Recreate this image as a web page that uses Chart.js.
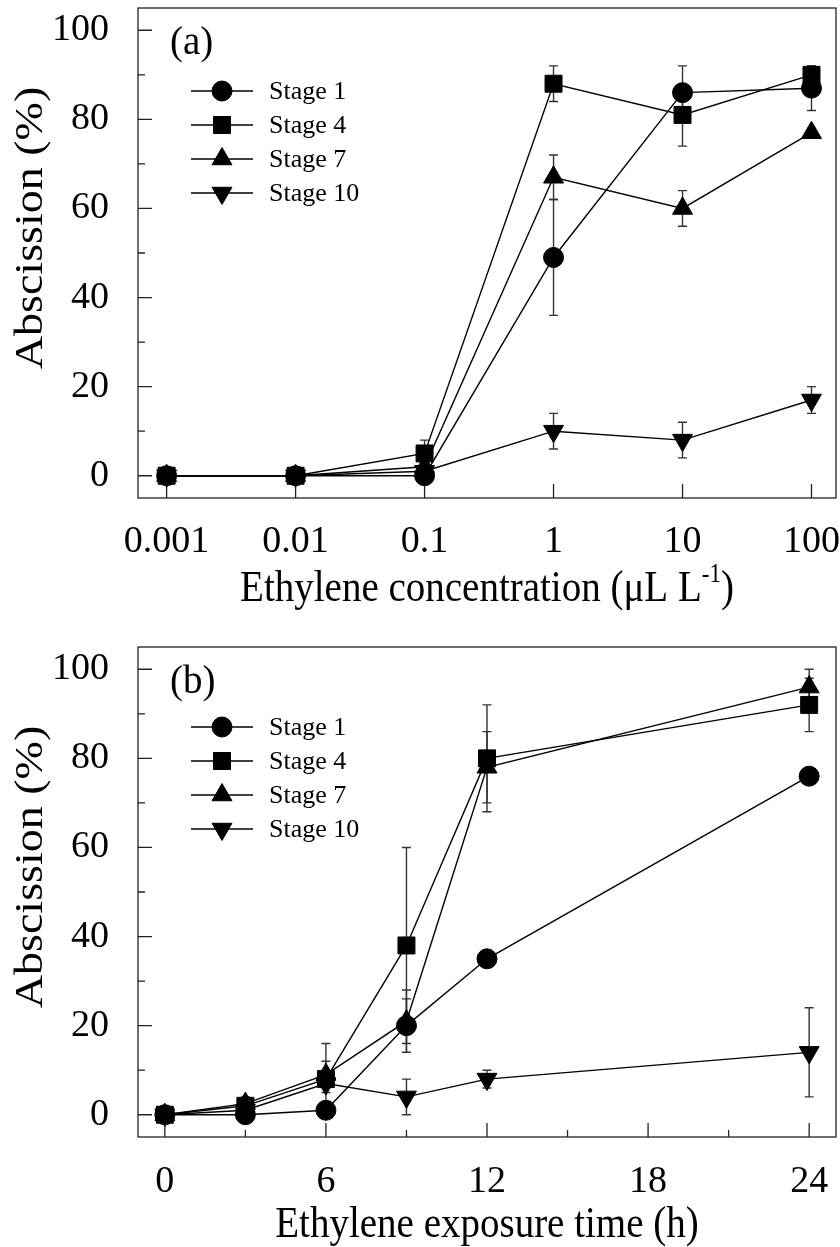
<!DOCTYPE html>
<html>
<head>
<meta charset="utf-8">
<script src="https://cdn.jsdelivr.net/npm/chart.js@4.4.1/dist/chart.umd.min.js"></script>
<style>
  html, body { margin: 0; padding: 0; background: #fff; }
  canvas { display: block; }
</style>
</head>
<body>
<canvas id="concChart" width="840" height="620"></canvas>
<canvas id="timeChart" width="840" height="627"></canvas>
<script>
// ── Data: panel (a), abscission vs ethylene concentration ──
const concX = [0.001, 0.01, 0.1, 1, 10, 100];
const concTicks = [0.001, 0.01, 0.1, 1, 10, 100];
const concStage1 = [0, 0, 0, 49, 86, 87];
const concStage1Err = [0, 0, 0, 13, 6, 5];
const concStage4 = [0, 0, 5, 88, 81, 90];
const concStage4Err = [0, 0, 3, 4, 7, 2];
const concStage7 = [0, 0, 2, 67, 60, 77];
const concStage7Err = [0, 0, 1, 5, 4, 1];
const concStage10 = [0, 0, 1, 10, 8, 17];
const concStage10Err = [0, 0, 0, 4, 4, 3];

// ── Data: panel (b), abscission vs exposure time ──
const timeX = [0, 3, 6, 9, 12, 24];
const timeTicks = [0, 6, 12, 18, 24];
const timeMinorTicks = [3, 9, 15, 21];
const timeStage1 = [0, 0, 1, 20, 35, 76];
const timeStage1Err = [0, 0, 0, 6, 0, 1];
const timeStage4 = [0, 2, 8, 38, 80, 92];
const timeStage4Err = [0, 1, 8, 22, 12, 6];
const timeStage7 = [0, 2.5, 9, 21, 78, 96];
const timeStage7Err = [0, 1.5, 3, 7, 8, 4];
const timeStage10 = [0, 1, 7, 4, 8, 14];
const timeStage10Err = [0, 0, 2, 4, 2, 10];

const yTicks = [0, 20, 40, 60, 80, 100];
const yMinorTicks = [10, 30, 50, 70, 90];
const stageLabels = ['Stage 1', 'Stage 4', 'Stage 7', 'Stage 10'];

const SERIF = "'Liberation Serif', 'Times New Roman', serif";

/** marker look for each stage */
const MARKERS = [
  { pointStyle: 'circle', radius: 10, rotation: 0 },
  { pointStyle: 'rect', radius: 12, rotation: 0 },
  { pointStyle: 'triangle', radius: 11.5, rotation: 0 },
  { pointStyle: 'triangle', radius: 11.5, rotation: 180 },
];

function buildDatasets(xs, series, errors) {
  return series.map((ys, i) => ({
    label: stageLabels[i],
    data: xs.map((x, j) => ({ x, y: ys[j] })),
    errors: errors[i],
    borderColor: '#000',
    backgroundColor: '#000',
    borderWidth: 1.4,
    tension: 0,
    pointStyle: MARKERS[i].pointStyle,
    pointRadius: MARKERS[i].radius,
    pointRotation: MARKERS[i].rotation,
    pointBorderWidth: 1,
    pointBackgroundColor: '#000',
    pointBorderColor: '#000',
    clip: false,
  }));
}

/** text drawn in pieces so the "-1" can sit as superscript */
function drawPieces(ctx, pieces, cx, baseY, size) {
  const widths = pieces.map(p => {
    ctx.font = `${p.sup ? Math.round(size * 0.6) : size}px ${SERIF}`;
    return ctx.measureText(p.text).width;
  });
  let x = cx - widths.reduce((a, b) => a + b, 0) / 2;
  pieces.forEach((p, i) => {
    ctx.font = `${p.sup ? Math.round(size * 0.6) : size}px ${SERIF}`;
    ctx.fillText(p.text, x, p.sup ? baseY - size * 0.42 : baseY);
    x += widths[i];
  });
}

/** frame, inward ticks, error bars, legend, panel letter and axis titles */
function makeDecor(cfg) {
  return {
    id: 'panelDecor',
    beforeDatasetsDraw(chart) {
      const { ctx, chartArea: a, scales: { x, y } } = chart;
      ctx.save();
      ctx.strokeStyle = '#222';
      ctx.lineWidth = 1.3;
      ctx.strokeRect(a.left, a.top, a.right - a.left, a.bottom - a.top);

      ctx.beginPath();
      yTicks.forEach(v => { const py = y.getPixelForValue(v); ctx.moveTo(a.left, py); ctx.lineTo(a.left + 14, py); });
      yMinorTicks.forEach(v => { const py = y.getPixelForValue(v); ctx.moveTo(a.left, py); ctx.lineTo(a.left + 7, py); });
      cfg.xMajor.forEach(v => { const px = x.getPixelForValue(v); ctx.moveTo(px, a.bottom); ctx.lineTo(px, a.bottom - 14); });
      cfg.xMinor.forEach(v => { const px = x.getPixelForValue(v); ctx.moveTo(px, a.bottom); ctx.lineTo(px, a.bottom - 7); });
      ctx.stroke();

      // error bars (mean ± error)
      ctx.strokeStyle = '#333';
      ctx.lineWidth = 1.4;
      chart.data.datasets.forEach(ds => {
        ds.errors.forEach((e, j) => {
          if (!e) return;
          const pt = ds.data[j];
          const px = x.getPixelForValue(pt.x);
          const top = y.getPixelForValue(pt.y + e);
          const bot = y.getPixelForValue(pt.y - e);
          ctx.beginPath();
          ctx.moveTo(px, top); ctx.lineTo(px, bot);
          ctx.moveTo(px - 4.5, top); ctx.lineTo(px + 4.5, top);
          ctx.moveTo(px - 4.5, bot); ctx.lineTo(px + 4.5, bot);
          ctx.stroke();
        });
      });
      ctx.restore();
    },
    afterDatasetsDraw(chart) {
      const { ctx, chartArea: a } = chart;
      ctx.save();
      ctx.fillStyle = '#000';
      ctx.strokeStyle = '#000';

      // legend: line with marker, then label
      chart.data.datasets.forEach((ds, i) => {
        const ly = a.top + cfg.legendTop + i * 34;
        ctx.lineWidth = 1.4;
        ctx.beginPath();
        ctx.moveTo(a.left + 53, ly); ctx.lineTo(a.left + 115, ly);
        ctx.stroke();
        ctx.lineWidth = 1;
        Chart.helpers.drawPoint(ctx, { pointStyle: MARKERS[i].pointStyle, radius: MARKERS[i].radius, rotation: MARKERS[i].rotation, borderWidth: 1 }, a.left + 84, ly);
        ctx.font = `26px ${SERIF}`;
        ctx.textBaseline = 'middle';
        ctx.textAlign = 'left';
        ctx.fillText(ds.label, a.left + 131, ly + 1);
      });

      ctx.font = `39px ${SERIF}`;
      ctx.textBaseline = 'middle';
      ctx.fillText(cfg.letter, a.left + 32, a.top + 36);
      ctx.restore();
    },
    afterDraw(chart) {
      const { ctx, chartArea: a } = chart;
      ctx.save();
      ctx.fillStyle = '#000';
      ctx.textBaseline = 'alphabetic';
      ctx.textAlign = 'left';
      // x title, slightly tall type like the source figure
      ctx.save();
      ctx.translate(0, a.bottom + cfg.xTitleBase);
      ctx.scale(1, 1.15);
      drawPieces(ctx, cfg.xTitle, (a.left + a.right) / 2, 0, 39);
      ctx.restore();
      // y title
      ctx.save();
      ctx.translate(42, a.top + 220);
      ctx.rotate(-Math.PI / 2);
      ctx.scale(1.18, 1);
      ctx.font = `39px ${SERIF}`;
      ctx.textAlign = 'center';
      ctx.fillText('Abscission (%)', 0, 0);
      ctx.restore();
      ctx.restore();
    }
  };
}

function panelOptions(p) {
  const tickFont = { family: SERIF, size: 38 };
  return {
    responsive: false,
    animation: false,
    events: [],
    layout: { autoPadding: false, padding: { top: p.padTop, right: 4, left: 0, bottom: 0 } },
    plugins: { legend: { display: false }, tooltip: { enabled: false } },
    scales: {
      x: Object.assign({
        grid: { display: false },
        border: { display: false },
        ticks: { font: tickFont, color: '#000', padding: p.xPad, autoSkip: false, maxRotation: 0, callback: (v) => String(v) },
        afterFit: (s) => { s.height = p.xHeight; s.paddingLeft = 0; s.paddingRight = 0; },
      }, p.x),
      y: {
        min: -5,
        max: 105,
        grid: { display: false },
        border: { display: false },
        ticks: { font: tickFont, color: '#000', padding: 21 },
        afterBuildTicks: (s) => { s.ticks = yTicks.map(v => ({ value: v })); },
        afterFit: (s) => { s.width = 138; s.paddingTop = 0; s.paddingBottom = 0; },
      }
    }
  };
}

new Chart(document.getElementById('concChart'), {
  type: 'line',
  data: {
    datasets: buildDatasets(concX,
      [concStage1, concStage4, concStage7, concStage10],
      [concStage1Err, concStage4Err, concStage7Err, concStage10Err])
  },
  options: panelOptions({
    padTop: 8, xHeight: 122, xPad: 13,
    x: {
      type: 'logarithmic',
      min: Math.pow(10, -3.19),
      max: Math.pow(10, 2.19),
      afterBuildTicks: (s) => { s.ticks = concTicks.map(v => ({ value: v })); },
    }
  }),
  plugins: [makeDecor({
    letter: '(a)', legendTop: 83, xTitleBase: 103,
    xMajor: concTicks, xMinor: [],
    xTitle: [{ text: 'Ethylene concentration (\u03bcL L' }, { text: '-1', sup: true }, { text: ')' }],
  })]
});

new Chart(document.getElementById('timeChart'), {
  type: 'line',
  data: {
    datasets: buildDatasets(timeX,
      [timeStage1, timeStage4, timeStage7, timeStage10],
      [timeStage1Err, timeStage4Err, timeStage7Err, timeStage10Err])
  },
  options: panelOptions({
    padTop: 27, xHeight: 110, xPad: 14,
    x: {
      type: 'linear',
      min: -1,
      max: 25,
      afterBuildTicks: (s) => { s.ticks = timeTicks.map(v => ({ value: v })); },
    }
  }),
  plugins: [makeDecor({
    letter: '(b)', legendTop: 80, xTitleBase: 100,
    xMajor: timeTicks, xMinor: timeMinorTicks,
    xTitle: [{ text: 'Ethylene exposure time (h)' }],
  })]
});
</script>
</body>
</html>
